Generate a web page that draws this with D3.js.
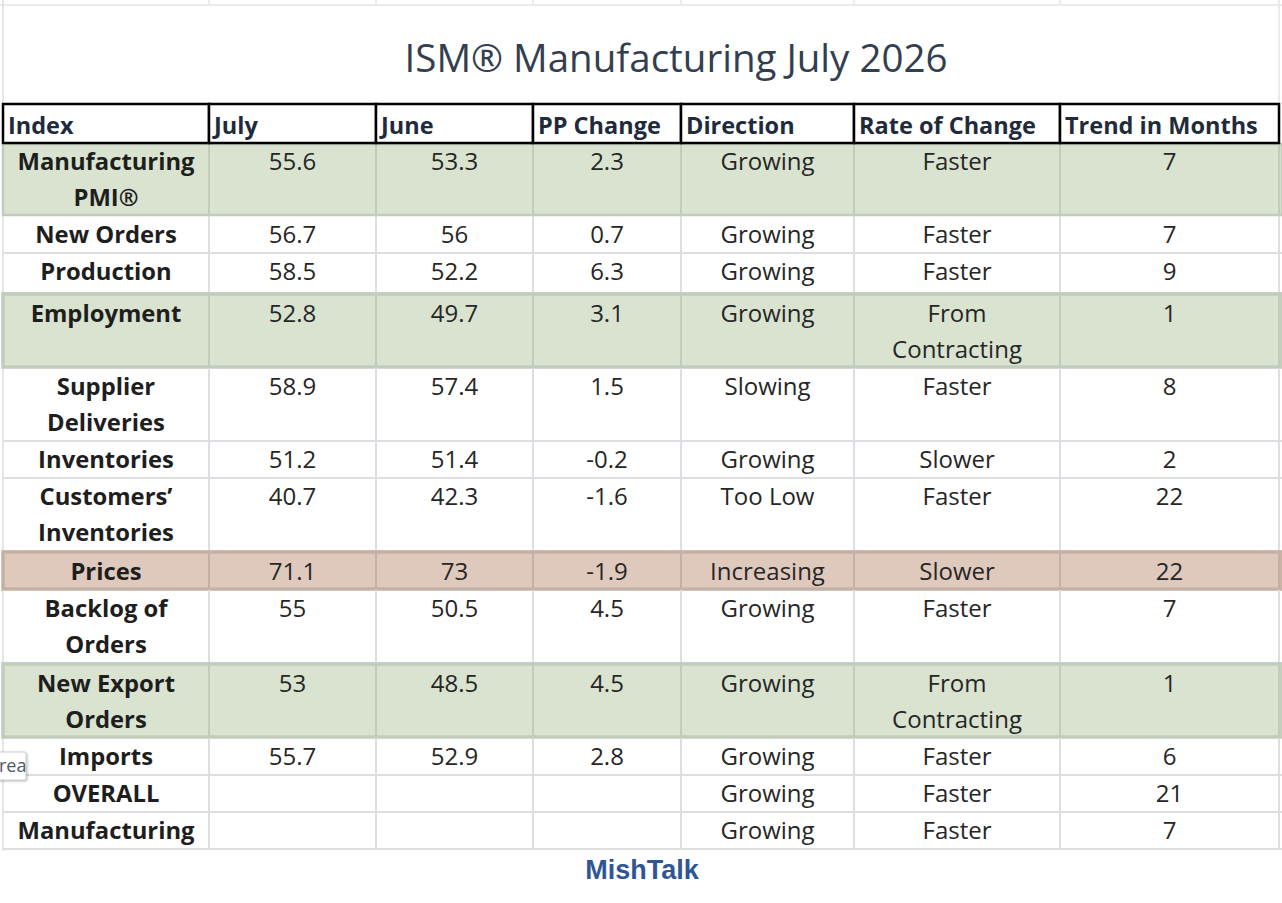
<!DOCTYPE html>
<html>
<head>
<meta charset="utf-8">
<script src="https://cdn.jsdelivr.net/npm/d3@7/dist/d3.min.js"></script>
<style>
  html, body { margin: 0; padding: 0; background: #fff; }
  svg { display: block; }
</style>
</head>
<body>
<svg id="chart" width="1282" height="903"></svg>
<script>
// ---------- DATA ----------
const title = "ISM® Manufacturing July 2026";
const columns = ["Index", "July", "June", "PP Change", "Direction", "Rate of Change", "Trend in Months"];
const indexNames = ["Manufacturing\nPMI®", "New Orders", "Production", "Employment", "Supplier\nDeliveries",
  "Inventories", "Customers’\nInventories", "Prices", "Backlog of\nOrders", "New Export\nOrders",
  "Imports", "OVERALL", "Manufacturing"];
const julyValues = ["55.6", "56.7", "58.5", "52.8", "58.9", "51.2", "40.7", "71.1", "55", "53", "55.7", "", ""];
const juneValues = ["53.3", "56", "52.2", "49.7", "57.4", "51.4", "42.3", "73", "50.5", "48.5", "52.9", "", ""];
const ppChange = ["2.3", "0.7", "6.3", "3.1", "1.5", "-0.2", "-1.6", "-1.9", "4.5", "4.5", "2.8", "", ""];
const direction = ["Growing", "Growing", "Growing", "Growing", "Slowing", "Growing", "Too Low", "Increasing",
  "Growing", "Growing", "Growing", "Growing", "Growing"];
const rateOfChange = ["Faster", "Faster", "Faster", "From\nContracting", "Faster", "Slower", "Faster", "Slower",
  "Faster", "From\nContracting", "Faster", "Faster", "Faster"];
const trendMonths = ["7", "7", "9", "1", "8", "2", "22", "22", "7", "1", "6", "21", "7"];
const highlight = ["green", "", "", "green", "", "", "", "red", "", "green", "", "", ""];
const source = "MishTalk";

// ---------- LAYOUT ----------
const W = 1282, H = 903;
const colEdges = [3, 209, 376, 533, 681, 854, 1060, 1279];
const headerTop = 104, headerBottom = 143;
const lineH = 36;
const fills = { green: "#d9e3d0", red: "#dfc9bc" };
const borders = { green: "#c1ccbd", red: "#c6b0a4" };
const gridCol = "#dcdee1";

const svg = d3.select("#chart");

const rows = indexNames.map((name, i) => {
  const cells = [name, julyValues[i], juneValues[i], ppChange[i], direction[i], rateOfChange[i], trendMonths[i]]
    .map(s => s.split("\n"));
  const lines = d3.max(cells, c => c.length);
  return { i, cells, lines, hl: highlight[i] };
});
let yCur = headerBottom;
rows.forEach((r, k) => {
  const nextHl = k + 1 < rows.length && rows[k + 1].hl === "green" && !r.hl && r.lines === 1 && k === 2;
  r.h = r.lines * lineH + 1 + (r.hl ? (k === 0 ? 0 : 2) : 0) + (nextHl ? 3 : 0);
  r.y0 = yCur; yCur += r.h; r.y1 = yCur;
});
const tableBottom = yCur;

const x = d3.scaleOrdinal().domain(d3.range(columns.length)).range(colEdges.slice(0, -1));
const xEnd = d3.scaleOrdinal().domain(d3.range(columns.length)).range(colEdges.slice(1));

// background spreadsheet gridlines above the table
const g0 = svg.append("g");
g0.append("line").attr("x1", 0).attr("x2", W).attr("y1", 5).attr("y2", 5).attr("stroke", "#e3e4e6").attr("stroke-width", 1.5);
colEdges.slice(1, -1).forEach(cx => {
  g0.append("line").attr("x1", cx).attr("x2", cx).attr("y1", 0).attr("y2", 5).attr("stroke", "#e3e4e6").attr("stroke-width", 1.5);
});
g0.append("line").attr("x1", 3).attr("x2", 3).attr("y1", 0).attr("y2", tableBottom + 2).attr("stroke", "#dcdee1").attr("stroke-width", 1.5);
g0.append("line").attr("x1", 1279).attr("x2", 1279).attr("y1", 0).attr("y2", headerTop).attr("stroke", "#e3e4e6").attr("stroke-width", 1.5);

// title
svg.append("text").attr("x", 676).attr("y", 72).attr("text-anchor", "middle")
  .attr("font-family", "Open Sans").attr("font-size", 38.5).attr("fill", "#333f50").text(title);

// rows
const rowG = svg.selectAll("g.row").data(rows).join("g").attr("class", "row");

// plain gridlines for white rows
rowG.filter(d => !d.hl).each(function(d) {
  const g = d3.select(this);
  g.append("line").attr("x1", 3).attr("x2", W).attr("y1", d.y1).attr("y2", d.y1).attr("stroke", gridCol).attr("stroke-width", 2);
  colEdges.slice(1).forEach(cx => {
    g.append("line").attr("x1", cx).attr("x2", cx).attr("y1", d.y0).attr("y2", d.y1).attr("stroke", gridCol).attr("stroke-width", 2);
  });
});
// highlighted rows
rowG.filter(d => d.hl).each(function(d) {
  const g = d3.select(this);
  g.append("rect").attr("x", 3).attr("y", d.y0 + 1).attr("width", W - 3).attr("height", d.h - 2)
    .attr("fill", fills[d.hl]).attr("stroke", borders[d.hl]).attr("stroke-width", d.i === 0 ? 2.5 : 3.5);
  colEdges.slice(1).forEach(cx => {
    g.append("line").attr("x1", cx).attr("x2", cx).attr("y1", d.y0).attr("y2", d.y1).attr("stroke", borders[d.hl]).attr("stroke-width", 2);
  });
});

// cell texts
rowG.each(function(d) {
  const g = d3.select(this);
  const off = d.hl && d.i !== 0 ? 29 : 27;
  d.cells.forEach((lines, ci) => {
    const cx = (x(ci) + xEnd(ci)) / 2;
    lines.forEach((t, li) => {
      if (!t) return;
      g.append("text").attr("x", cx).attr("y", d.y0 + off + li * lineH)
        .attr("text-anchor", "middle")
        .attr("font-family", "Open Sans")
        .attr("font-weight", ci === 0 ? 700 : 400)
        .attr("font-size", ci === 0 ? 23.8 : 24)
        .attr("fill", ci === 0 ? "#1e1e1e" : "#262626")
        .text(t);
    });
  });
});

// header
const hg = svg.append("g");
columns.forEach((c, ci) => {
  hg.append("rect").attr("x", x(ci)).attr("y", headerTop).attr("width", xEnd(ci) - x(ci)).attr("height", headerBottom - headerTop)
    .attr("fill", "#fff").attr("stroke", "#000").attr("stroke-width", 2.5);
  hg.append("text").attr("x", x(ci) + 5).attr("y", 134)
    .attr("font-family", "Open Sans").attr("font-weight", 700).attr("font-size", 23.5)
    .attr("fill", "#1f2b3c").text(c);
});

// source
svg.append("text").attr("x", 642).attr("y", 879).attr("text-anchor", "middle")
  .attr("font-family", "Liberation Sans").attr("font-weight", 700).attr("font-size", 27)
  .attr("fill", "#2f5597").text(source);

// tooltip fragment at left edge
const tip = svg.append("g");
tip.append("rect").attr("x", -6).attr("y", 752).attr("width", 32).attr("height", 28).attr("rx", 2)
  .attr("fill", "#fff").attr("stroke", "#d0d0d0").attr("stroke-width", 1)
  .style("filter", "drop-shadow(1px 1px 1px rgba(0,0,0,0.25))");
tip.append("text").attr("x", -1).attr("y", 772).attr("font-family", "Open Sans").attr("font-size", 18)
  .attr("fill", "#4d5866").text("rea");
</script>
</body>
</html>
